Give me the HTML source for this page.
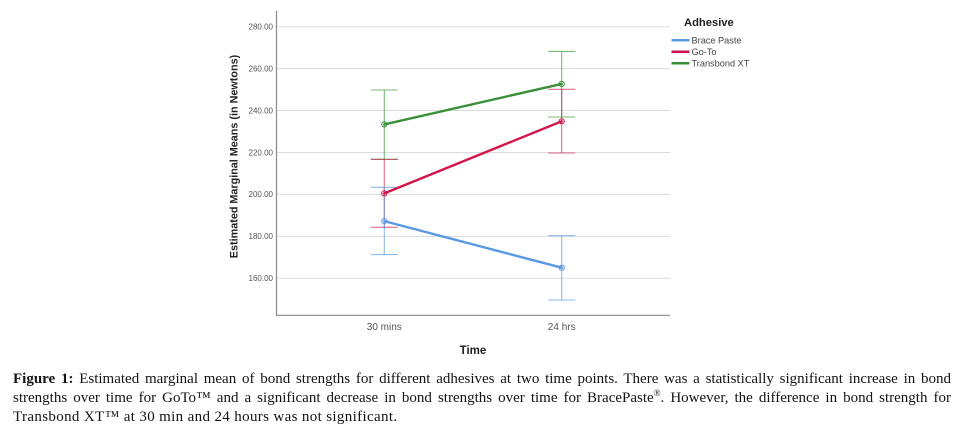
<!DOCTYPE html>
<html>
<head>
<meta charset="utf-8">
<style>
  html, body { margin:0; padding:0; background:#fff; }
  body { width:980px; height:438px; position:relative; overflow:hidden; }
  svg { position:absolute; left:0; top:0; }
  .cap { position:absolute; left:13px; width:938px; top:369.5px;
         font-family:"Liberation Serif", serif; font-size:15px; line-height:19.3px; color:#141414; }
  .cap div { white-space:nowrap; }
  .j { text-align:justify; text-align-last:justify; white-space:normal !important; }
</style>
</head>
<body>
<svg width="980" height="438" viewBox="0 0 980 438" xmlns="http://www.w3.org/2000/svg">
  <!-- gridlines -->
  <g stroke="#dcdcdc" stroke-width="1">
    <line x1="277" y1="26.7" x2="670" y2="26.7"/>
    <line x1="277" y1="68.6" x2="670" y2="68.6"/>
    <line x1="277" y1="110.5" x2="670" y2="110.5"/>
    <line x1="277" y1="152.5" x2="670" y2="152.5"/>
    <line x1="277" y1="194.4" x2="670" y2="194.4"/>
    <line x1="277" y1="236.4" x2="670" y2="236.4"/>
    <line x1="277" y1="278.3" x2="670" y2="278.3"/>
  </g>
  <!-- axes -->
  <line x1="276.5" y1="10.5" x2="276.5" y2="315.5" stroke="#8a8a8a" stroke-width="1.2"/>
  <line x1="276" y1="315.3" x2="670" y2="315.3" stroke="#8a8a8a" stroke-width="1.2"/>
  <!-- y tick labels -->
  <g font-family="Liberation Sans, sans-serif" font-size="8px" fill="#555" text-anchor="end">
    <text x="273" y="29.5">280.00</text>
    <text x="273" y="71.4">260.00</text>
    <text x="273" y="113.3">240.00</text>
    <text x="273" y="155.3">220.00</text>
    <text x="273" y="197.2">200.00</text>
    <text x="273" y="239.2">180.00</text>
    <text x="273" y="281.1">160.00</text>
  </g>
  <!-- y axis title -->
  <text transform="translate(237.5,156.5) rotate(-90)" text-anchor="middle" font-family="Liberation Sans, sans-serif" font-weight="bold" font-size="10.8px" fill="#222">Estimated Marginal Means (in Newtons)</text>
  <!-- x tick labels -->
  <g font-family="Liberation Sans, sans-serif" font-size="10px" fill="#555" text-anchor="middle">
    <text x="384.3" y="330">30 mins</text>
    <text x="561.7" y="330">24 hrs</text>
  </g>
  <text x="473" y="354" text-anchor="middle" font-family="Liberation Sans, sans-serif" font-weight="bold" font-size="11.5px" fill="#222">Time</text>

  <!-- error bars -->
  <g stroke-width="1.1" fill="none">
    <!-- green -->
    <g stroke="#3e9a3e" stroke-opacity="0.7">
      <line x1="384.3" y1="90" x2="384.3" y2="159.2"/>
      <line x1="370.8" y1="90" x2="397.8" y2="90"/>
      <line x1="370.8" y1="159.2" x2="397.8" y2="159.2"/>
      <line x1="561.7" y1="51.4" x2="561.7" y2="117"/>
      <line x1="548.2" y1="51.4" x2="575.2" y2="51.4"/>
      <line x1="548.2" y1="117" x2="575.2" y2="117"/>
    </g>
    <!-- red -->
    <g stroke="#d3214d" stroke-opacity="0.65">
      <line x1="384.3" y1="159.4" x2="384.3" y2="227.3"/>
      <line x1="370.8" y1="159.4" x2="397.8" y2="159.4"/>
      <line x1="370.8" y1="227.3" x2="397.8" y2="227.3"/>
      <line x1="561.7" y1="89.3" x2="561.7" y2="153"/>
      <line x1="548.2" y1="89.3" x2="575.2" y2="89.3"/>
      <line x1="548.2" y1="153" x2="575.2" y2="153"/>
    </g>
    <!-- blue -->
    <g stroke="#5b9be6" stroke-opacity="0.7">
      <line x1="384.3" y1="187.3" x2="384.3" y2="254.6"/>
      <line x1="370.8" y1="187.3" x2="397.8" y2="187.3"/>
      <line x1="370.8" y1="254.6" x2="397.8" y2="254.6"/>
      <line x1="561.7" y1="235.7" x2="561.7" y2="300"/>
      <line x1="548.2" y1="235.7" x2="575.2" y2="235.7"/>
      <line x1="548.2" y1="300" x2="575.2" y2="300"/>
    </g>
  </g>
  <!-- series lines -->
  <g stroke-width="2.4" fill="none" stroke-linecap="round">
    <line x1="384.3" y1="124.4" x2="561.7" y2="83.9" stroke="#3a8f3a"/>
    <line x1="384.3" y1="193.4" x2="561.7" y2="121.3" stroke="#d0164a"/>
    <line x1="384.3" y1="221.1" x2="561.7" y2="267.7" stroke="#5a98e4"/>
  </g>
  <!-- markers -->
  <g fill="none" stroke-width="1">
    <circle cx="384.3" cy="124.4" r="2.6" stroke="#3a8f3a"/>
    <circle cx="561.7" cy="83.9" r="2.6" stroke="#3a8f3a"/>
    <circle cx="384.3" cy="193.4" r="2.6" stroke="#d0164a"/>
    <circle cx="561.7" cy="121.3" r="2.6" stroke="#d0164a"/>
    <circle cx="384.3" cy="221.1" r="2.6" stroke="#5a98e4"/>
    <circle cx="561.7" cy="267.7" r="2.6" stroke="#5a98e4"/>
  </g>

  <!-- legend -->
  <text x="684" y="26" font-family="Liberation Sans, sans-serif" font-weight="bold" font-size="11.2px" fill="#222">Adhesive</text>
  <g stroke-width="2.5">
    <line x1="671.5" y1="40.3" x2="689.5" y2="40.3" stroke="#5a98e4"/>
    <line x1="671.5" y1="51.7" x2="689.5" y2="51.7" stroke="#d0164a"/>
    <line x1="671.5" y1="63.3" x2="689.5" y2="63.3" stroke="#3a8f3a"/>
  </g>
  <g font-family="Liberation Sans, sans-serif" font-size="9.2px" fill="#444">
    <text x="691.5" y="43.5">Brace Paste</text>
    <text x="691.5" y="54.9">Go-To</text>
    <text x="691.5" y="66.5">Transbond XT</text>
  </g>
</svg>

<div class="cap">
  <div class="j"><b>Figure 1:</b> Estimated marginal mean of bond strengths for different adhesives at two time points. There was a statistically significant increase in bond</div>
  <div class="j">strengths over time for GoTo™ and a significant decrease in bond strengths over time for BracePaste<sup style="font-size:9px;line-height:0">®</sup>. However, the difference in bond strength for</div>
  <div style="letter-spacing:0.35px">Transbond XT™ at 30 min and 24 hours was not significant.</div>
</div>
</body>
</html>
